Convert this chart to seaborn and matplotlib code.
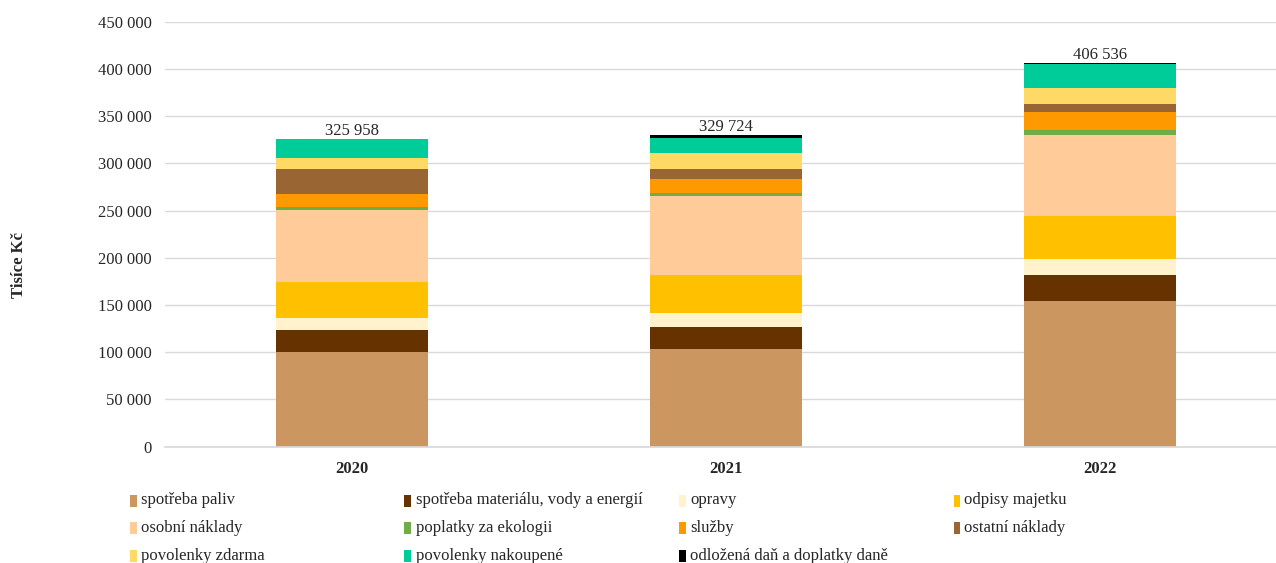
import matplotlib
matplotlib.use("Agg")
import matplotlib.pyplot as plt
import matplotlib.patches as mpatches
import seaborn as sns
import pandas as pd

years = ["2020", "2021", "2022"]
categories = [
    "spotřeba paliv", "spotřeba materiálu, vody a energií", "opravy", "odpisy majetku",
    "osobní náklady", "poplatky za ekologii", "služby", "ostatní náklady",
    "povolenky zdarma", "povolenky nakoupené", "odložená daň a doplatky daně",
]
colors = ["#CC9660", "#663300", "#FFF2CC", "#FFC000", "#FFCB99", "#70AD47",
          "#FF9900", "#996633", "#FFD966", "#00CC99", "#000000"]

spotreba_paliv = [100000, 103600, 154200]
spotreba_materialu = [23800, 23000, 27900]
opravy = [12800, 15200, 17000]
odpisy_majetku = [38100, 39600, 45300]
osobni_naklady = [76400, 83900, 85600]
poplatky_ekologie = [2200, 3200, 5300]
sluzby = [14100, 14900, 19400]
ostatni_naklady = [26800, 10300, 7800]
povolenky_zdarma = [11000, 16900, 17700]
povolenky_nakoupene = [20400, 15800, 25100]
odlozena_dan = [358, 3324, 1236]
totals = [325958, 329724, 406536]

series = [spotreba_paliv, spotreba_materialu, opravy, odpisy_majetku, osobni_naklady,
          poplatky_ekologie, sluzby, ostatni_naklady, povolenky_zdarma,
          povolenky_nakoupene, odlozena_dan]

rows = []
for cat, vals in zip(categories, series):
    for i, v in enumerate(vals):
        rows.append({"x": i, "kategorie": cat, "hodnota": v})
df = pd.DataFrame(rows)

sns.set_theme(style="white")
plt.rcParams["font.family"] = ["Liberation Serif", "DejaVu Serif"]

fig = plt.figure(figsize=(12.76, 5.63), dpi=100)
ax = fig.add_axes([165 / 1276, 116.3 / 563, 1122 / 1276, (446.7 - 21.7) / 563])

# histplot stacks last hue level at the bottom -> reverse order
sns.histplot(data=df, x="x", weights="hodnota", hue="kategorie",
             hue_order=categories[::-1], palette=dict(zip(categories, colors)),
             multiple="stack", discrete=True, shrink=0.404, alpha=1,
             linewidth=0, edgecolor="none", legend=False, ax=ax)

ax.set_xlim(-0.5, 2.5)
ax.set_ylim(0, 450000)
ax.set_yticks(range(0, 450001, 50000))
ax.set_yticklabels([f"{v:,}".replace(",", " ") for v in range(0, 450001, 50000)], fontsize=12)
ax.set_xticks(range(len(years)))
ax.set_xticklabels(years, fontsize=12, fontweight="bold")
ax.tick_params(axis="x", pad=10, length=0)
ax.tick_params(axis="y", pad=9.5, length=0)
ax.set_xlabel("")
ax.set_ylabel("")
ax.grid(axis="y", color="#D9D9D9", linewidth=1)
ax.set_axisbelow(True)
for s in ["top", "right", "left"]:
    ax.spines[s].set_visible(False)
ax.spines["bottom"].set_color("#D9D9D9")

for i, t in enumerate(totals):
    ax.annotate(f"{t:,}".replace(",", " "), (i, t), xytext=(0, 0),
                textcoords="offset points", ha="center", va="bottom", fontsize=12)

fig.text(19 / 1276, 1 - 265 / 563, "Tisíce Kč", rotation=90, fontsize=12,
         fontweight="bold", ha="center", va="center")

# legend
for i, (cat, col) in enumerate(zip(categories, colors)):
    r, c = divmod(i, 4)
    xp = 130 + 274.5 * c
    yp = 500.5 + 27.7 * r
    fig.patches.append(mpatches.Rectangle((xp / 1276, 1 - (yp + 6) / 563), 7 / 1276, 12 / 563,
                                          transform=fig.transFigure, facecolor=col,
                                          edgecolor="none"))
    fig.text((xp + 11) / 1276, 1 - yp / 563, cat, fontsize=12, ha="left", va="center")

fig.savefig("out.png", dpi=100)
